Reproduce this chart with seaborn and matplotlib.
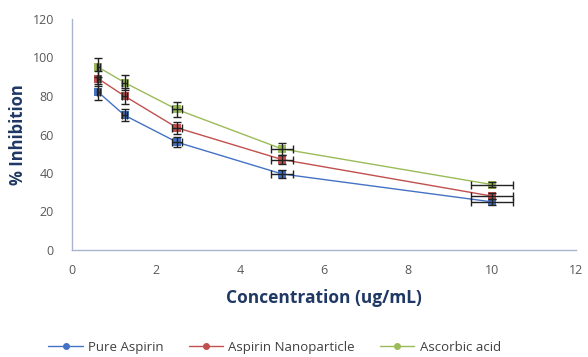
import numpy as np
import pandas as pd
import matplotlib
matplotlib.use("Agg")
import matplotlib.pyplot as plt
import seaborn as sns
from matplotlib.lines import Line2D

concentration = [0.625, 1.25, 2.5, 5, 10]
pure_aspirin = [82, 70, 56, 39.5, 25]
aspirin_nano = [89, 80, 63.5, 47, 28]
ascorbic_acid = [95, 87, 73, 52.5, 34]
err_pure = [4, 3, 2.5, 2, 1.5]
err_nano = [4, 4, 3, 2.5, 1.5]
err_asc = [5, 4, 4, 3, 1.5]
xerr = [0.03, 0.06, 0.13, 0.27, 0.5]
series_names = ["Pure Aspirin", "Aspirin Nanoparticle", "Ascorbic acid"]
colors = ["#4472C4", "#C0504D", "#9BBB59"]

sns.set_style("white")
plt.rcParams['font.family'] = ['Open Sans', 'DejaVu Sans']

df = pd.DataFrame({
    "x": concentration * 3,
    "y": pure_aspirin + aspirin_nano + ascorbic_acid,
    "series": [s for s in series_names for _ in concentration],
})

fig = plt.figure(figsize=(5.88, 3.57), dpi=100)
ax = fig.add_axes([72/588, 1 - 250/357, (576-72)/588, (250-19)/357])

sns.lineplot(data=df, x="x", y="y", hue="series", palette=colors,
             marker="s", markersize=6, markeredgewidth=0, linewidth=1.0,
             ax=ax, legend=False)

for vals, errs, c in zip([pure_aspirin, aspirin_nano, ascorbic_acid],
                         [err_pure, err_nano, err_asc], colors):
    ax.errorbar(concentration, vals, yerr=errs, xerr=xerr, fmt="none",
                ecolor="#222222", elinewidth=1.0, capsize=3, capthick=1.0, zorder=5)

ax.set_xlim(0, 12)
ax.set_ylim(0, 120)
ax.set_xticks(range(0, 13, 2))
ax.set_yticks(range(0, 121, 20))
ax.tick_params(axis="x", labelsize=9, colors="#595959", length=0, pad=10)
ax.tick_params(axis="y", labelsize=9, colors="#595959", length=0, pad=13)
for s in ["top", "right"]:
    ax.spines[s].set_visible(False)
for s in ["left", "bottom"]:
    ax.spines[s].set_color("#A9B4CF")
    ax.spines[s].set_linewidth(1.0)

ax.set_xlabel("Concentration (ug/mL)", fontsize=12.5, fontweight="bold", color="#1F3864", labelpad=9)
ax.set_ylabel("% Inhibition", fontsize=12, fontweight="bold", color="#1F3864", labelpad=4)

handles = [Line2D([0], [0], color=c, marker="o", markersize=4, linewidth=1.0) for c in colors]
fig.legend(handles, series_names, loc="lower center", ncol=3, frameon=False,
           fontsize=9.5, bbox_to_anchor=(0.467, -0.025), handlelength=2.6,
           columnspacing=1.9, handletextpad=0.4, labelcolor="#404040")

fig.savefig("out.png", dpi=100)
